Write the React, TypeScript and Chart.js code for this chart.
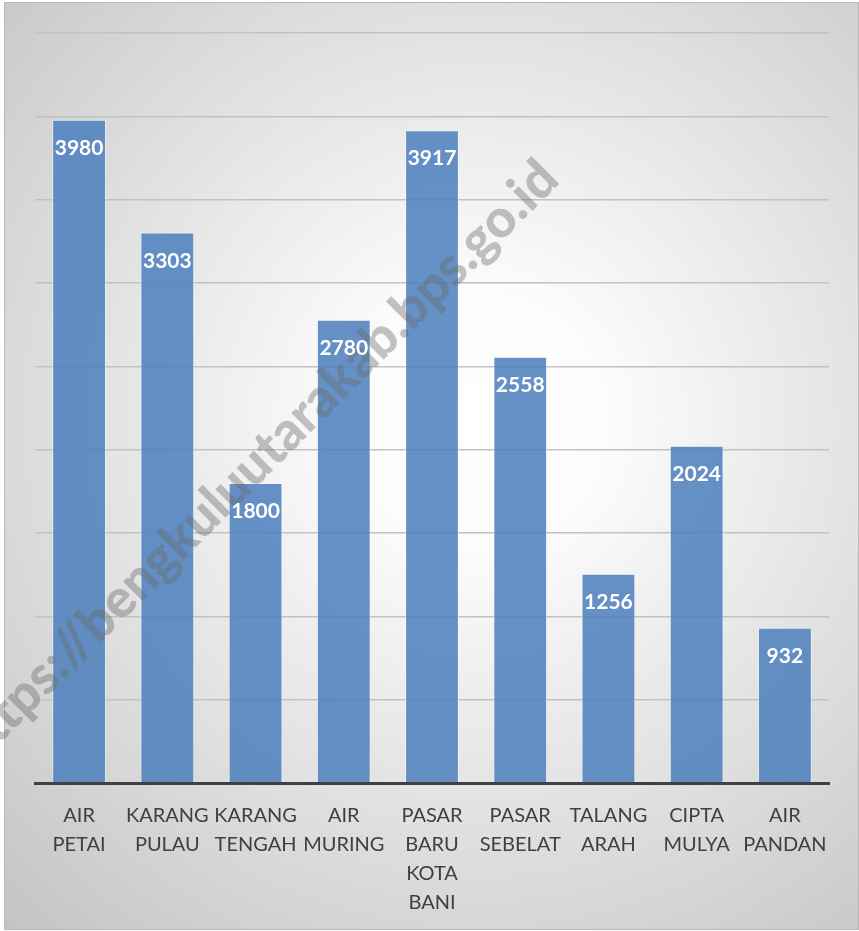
import React, { useEffect, useRef } from "react";
import { Chart, registerables } from "chart.js";

Chart.register(...registerables);

const CATEGORIES: string[][] = [
  ["AIR", "PETAI"],
  ["KARANG", "PULAU"],
  ["KARANG", "TENGAH"],
  ["AIR", "MURING"],
  ["PASAR", "BARU", "KOTA", "BANI"],
  ["PASAR", "SEBELAT"],
  ["TALANG", "ARAH"],
  ["CIPTA", "MULYA"],
  ["AIR", "PANDAN"],
];
const VALUES: number[] = [3980, 3303, 1800, 2780, 3917, 2558, 1256, 2024, 932];
const Y_MAX = 4500;
const Y_STEP = 500;
const WATERMARK = "https://bengkuluutarakab.bps.go.id";

const W = 859;
const H = 931;

const backgroundPlugin = {
  id: "bgPlugin",
  beforeDraw(chart: any) {
    const ctx = chart.ctx;
    ctx.save();
    ctx.fillStyle = "#ffffff";
    ctx.fillRect(0, 0, W, H);
    const g = ctx.createRadialGradient(480, 420, 0, 480, 420, 700);
    g.addColorStop(0, "#ffffff");
    g.addColorStop(0.18, "#fcfcfc");
    g.addColorStop(1, "#c3c3c3");
    ctx.fillStyle = g;
    ctx.fillRect(5, 3, 853, 926);
    ctx.strokeStyle = "#b8b8b8";
    ctx.lineWidth = 1;
    ctx.strokeRect(4.5, 2.5, 854, 927);
    ctx.restore();
  },
};

const labelsPlugin = {
  id: "labelsPlugin",
  afterDatasetsDraw(chart: any) {
    const ctx = chart.ctx;
    // watermark
    ctx.save();
    ctx.font = "900 40px Lato";
    const tw = ctx.measureText(WATERMARK).width;
    const size = (40 * 827) / tw;
    ctx.font = `900 ${size}px Lato`;
    ctx.translate(257, 462);
    ctx.rotate(-Math.PI / 4);
    ctx.fillStyle = "rgba(105,105,105,0.4)";
    ctx.textAlign = "center";
    ctx.textBaseline = "middle";
    ctx.fillText(WATERMARK, 0, 0);
    ctx.restore();

    // data labels
    const meta = chart.getDatasetMeta(0);
    ctx.save();
    ctx.font = "bold 21px Lato";
    ctx.fillStyle = "#ffffff";
    ctx.textAlign = "center";
    ctx.textBaseline = "alphabetic";
    meta.data.forEach((bar: any, i: number) => {
      ctx.fillText(String(VALUES[i]), bar.x, bar.y + 35);
    });
    ctx.restore();
  },
};

export default function App() {
  const ref = useRef<HTMLCanvasElement | null>(null);
  useEffect(() => {
    document.body.style.margin = "0";
    if (!ref.current) return;
    const chart = new Chart(ref.current, {
      type: "bar",
      data: {
        labels: CATEGORIES,
        datasets: [
          {
            data: VALUES,
            backgroundColor: "rgba(79,129,189,0.87)",
            borderColor: "rgba(255,255,255,0.45)",
            borderWidth: 1,
            categoryPercentage: 1,
            barPercentage: 0.61,
          },
        ],
      },
      options: {
        animation: false,
        responsive: false,
        devicePixelRatio: 1,
        layout: { padding: { left: 35, right: 30, top: 33, bottom: 0 } },
        plugins: {
          legend: { display: false },
          tooltip: { enabled: false },
          title: { display: false },
        },
        scales: {
          y: {
            min: 0,
            max: Y_MAX,
            ticks: { display: false, stepSize: Y_STEP },
            grid: { color: "#c2c2c2", lineWidth: 1.5, drawTicks: false },
            border: { display: false },
            afterFit: (s: any) => {
              s.width = 0;
            },
          },
          x: {
            grid: { display: false, drawTicks: false },
            border: { display: true, color: "#404040", width: 3 },
            ticks: {
              color: "#404040",
              font: { family: "Lato", size: 20, lineHeight: 1.45 },
              maxRotation: 0,
              minRotation: 0,
              autoSkip: false,
              padding: 18,
            },
            afterFit: (s: any) => {
              s.height = 148;
            },
          },
        },
      },
      plugins: [backgroundPlugin, labelsPlugin],
    });
    return () => chart.destroy();
  }, []);
  return <canvas ref={ref} width={W} height={H} style={{ display: "block" }} />;
}
